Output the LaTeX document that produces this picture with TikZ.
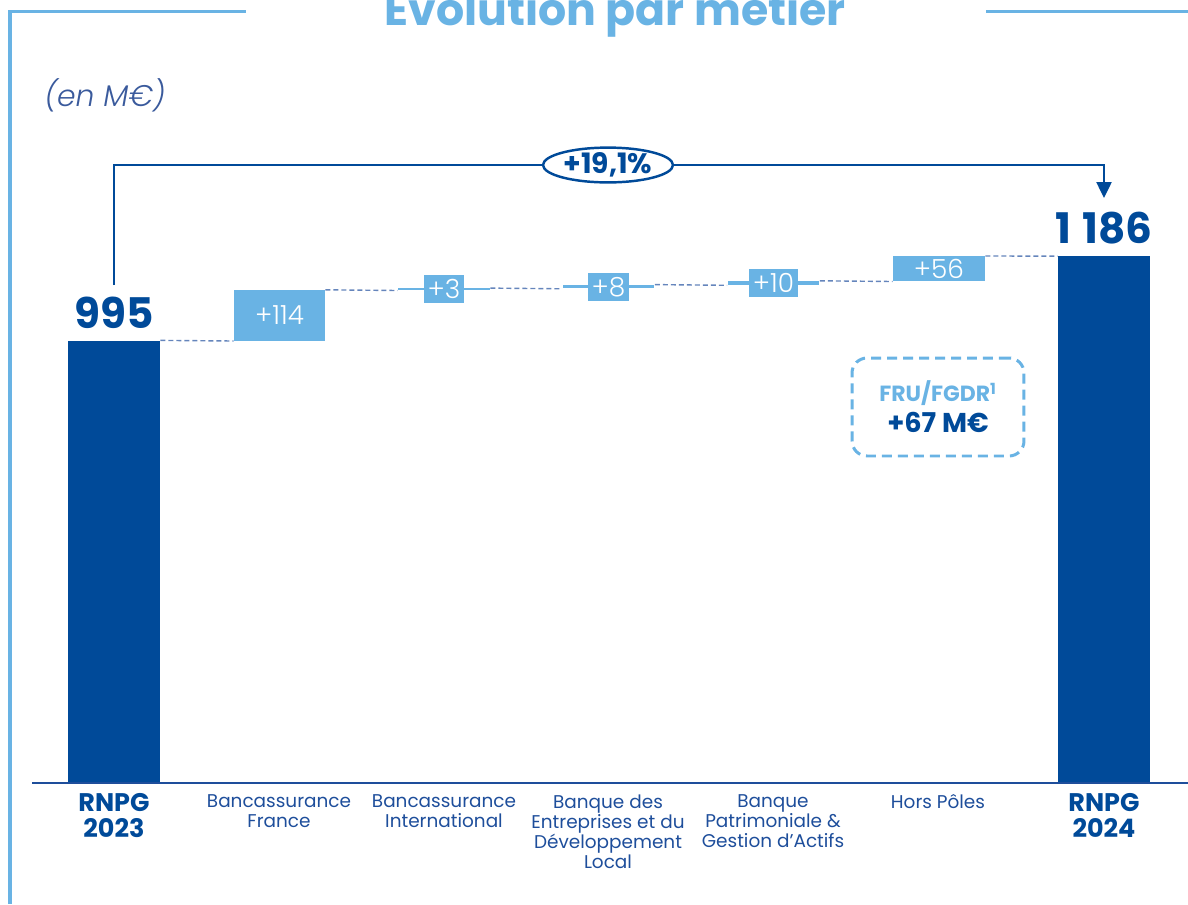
\documentclass[tikz,border=0pt]{standalone}
\usepackage{fontspec}
\setmainfont{Poppins}
\newfontfamily\lightf{Poppins Light}
\newfontfamily\lightit{Poppins Light Italic}
\usetikzlibrary{arrows.meta,shapes.geometric}
\definecolor{dkblue}{HTML}{004A99}
\definecolor{ltblue}{HTML}{69B3E4}
\definecolor{txtblue}{HTML}{1E4E9B}
\definecolor{dashcol}{HTML}{6585BC}
\definecolor{itblue}{HTML}{3A5A9C}
\tikzset{
  dkbar/.style={fill=dkblue, draw=none, inner sep=0, minimum width=1.84cm, anchor=south},
  ltbar/.style={fill=ltblue, draw=none, inner sep=0, minimum width=1.84cm, anchor=south},
  lbl/.style={fill=ltblue, text=white, inner xsep=0.07cm, inner ysep=0, minimum height=0.56cm, font=\lightf\fontsize{15}{15}\selectfont},
  wtxt/.style={text=white, inner sep=0, font=\lightf\fontsize{15}{15}\selectfont},
  conn/.style={dashcol, line width=0.8pt, dash pattern=on 0.1cm off 0.06cm},
  bracket/.style={dkblue, line width=1.4pt},
  val/.style={text=dkblue, inner sep=0, anchor=north, font=\bfseries\fontsize{24}{24}\selectfont},
  cat/.style={text=txtblue, inner sep=0, anchor=north, align=center, font=\fontsize{10.5}{11.5}\selectfont},
  rnpg/.style={text=dkblue, inner sep=0, anchor=north, align=center, font=\bfseries\fontsize{14.5}{15}\selectfont},
  frame/.style={ltblue, line width=2pt}
}
\begin{document}
\begin{tikzpicture}[x=0.02cm,y=-0.02cm]
\useasboundingbox (0,0) rectangle (1188,904);
\clip (0,0) rectangle (1188,904);
% frame
\draw[frame] (10,904) -- (10,11.5) -- (246,11.5);
\draw[frame] (986,11.5) -- (1188,11.5);
\node[anchor=base, text=ltblue, font=\bfseries\fontsize{25.2}{25}\selectfont, inner sep=0] (title) at (615,25) {Évolution par métier};
\node[text=itblue, font=\lightit\fontsize{17}{17}\selectfont, inner sep=0] (unit) at (105,95) {(en M€)};
% bars
\node[dkbar, minimum height=8.84cm] (b0) at (114,783) {};
\node[ltbar, minimum width=1.82cm, minimum height=1.01cm] (b1) at (279.5,341) {};
\node[ltbar, minimum height=0.034cm] (b2) at (444,290.5) {};
\node[ltbar, minimum height=0.07cm] (b3) at (608.5,288.8) {};
\node[ltbar, minimum height=0.076cm] (b4) at (773.5,285.3) {};
\node[ltbar, minimum height=0.496cm] (b5) at (939,281.5) {};
\node[dkbar, minimum height=10.526cm] (b6) at (1104,783) {};
% connectors
\draw[conn] (b0.north east) -- (b1.south west);
\draw[conn] (b1.north east) -- (b2.south west);
\draw[conn] (b2.north east) -- (b3.south west);
\draw[conn] (b3.north east) -- (b4.south west);
\draw[conn] (b4.north east) -- (b5.south west);
\draw[conn] (b5.north east) -- (b6.north west);
% bar labels
\node[wtxt] (t1) at (b1.center) {+114};
\node[lbl] (t2) at (b2.center) {+3};
\node[lbl] (t3) at (b3.center) {+8};
\node[lbl] (t4) at (b4.center) {+10};
\node[wtxt] (t5) at (b5.center) {+56};
% values
\node[val] (v0) at (114,297) {995};
\node[val] (v6) at (1104,212) {1\hspace{0.28em}186};
% bracket
\coordinate (cL) at (114,165);
\coordinate (cR) at (1104,165);
\node[ellipse, draw=dkblue, line width=1.4pt, fill=white, minimum width=2.6cm, minimum height=0.68cm, inner sep=0, text=dkblue, font=\bfseries\fontsize{16}{16}\selectfont] (pct) at (608,165) {+19,1\%};
\draw[bracket, shorten <=0.24cm] (v0.north) -- (cL) -- (pct.west);
\draw[bracket, -{Triangle[width=0.3cm,length=0.32cm]}, shorten >=0.28cm] (pct.east) -- (cR) -- (v6.north);
% axis
\draw[txtblue, line width=1.4pt] (32,783) -- (1188,783);
% categories
\node[rnpg] (c0) at (114,793) {RNPG\\2023};
\node[cat] (c1) at (279,794) {Bancassurance\\France};
\node[cat] (c2) at (444,794) {Bancassurance\\International};
\node[cat] (c3) at (608,794) {Banque des\\Entreprises et du\\Développement\\Local};
\node[cat] (c4) at (773,794) {Banque\\Patrimoniale \&\\Gestion d’Actifs};
\node[cat] (c5) at (938,794) {Hors Pôles};
\node[rnpg] (c6) at (1104,793) {RNPG\\2024};
% FRU box
\node[draw=ltblue, line width=1.7pt, dash pattern=on 0.2cm off 0.12cm, rounded corners=0.3cm, minimum width=3.44cm, minimum height=1.96cm, align=center, inner sep=0, font=\bfseries\fontsize{13}{17.5}\selectfont] (fru) at (938,407)
 {{\color{ltblue}\fontsize{12.5}{17.5}\selectfont FRU/FGDR\textsuperscript{1}}\\{\color{dkblue}\fontsize{15.5}{17.5}\selectfont +67 M€}};
\end{tikzpicture}
\end{document}
